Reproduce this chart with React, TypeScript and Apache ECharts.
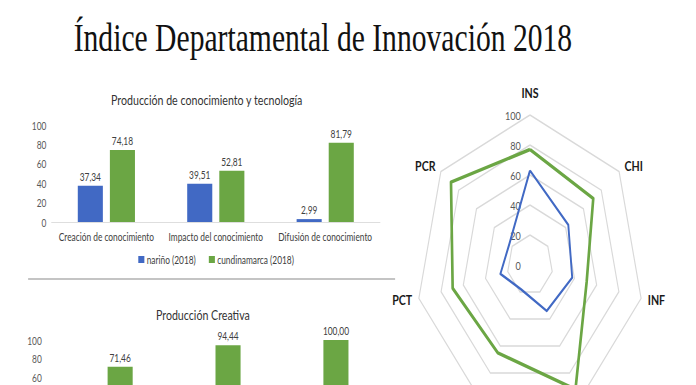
import React, { useEffect, useRef } from 'react';
import * as echarts from 'echarts';

// ---- data ----
const mainTitle = 'Índice Departamental de Innovación 2018';
const seriesNames = ['nariño (2018)', 'cundinamarca (2018)'];

const pctTitle = 'Producción de conocimiento y tecnología';
const pctCategories = ['Creación de conocimiento', 'Impacto del conocimiento', 'Difusión de conocimiento'];
const pctNarino = [37.34, 39.51, 2.99];
const pctCundinamarca = [74.18, 52.81, 81.79];

const pcrTitle = 'Producción Creativa';
const pcrCategories = ['Bienes intangibles', 'Bienes y servicios creativos', 'Creatividad en línea'];
const pcrNarino: (number | null)[] = [null, null, null];
const pcrCundinamarca = [71.46, 94.44, 100.0];
// the lower chart is cropped: only these ticks are inside the picture
const pcrVisibleTickFrom = 60;

const radarIndicators = ['INS', 'CHI', 'INF', 'SMD', 'SNE', 'PCT', 'PCR'];
const radarNarino = [63, 43, 38, 34, 18, 26.61, 23];
const radarCundinamarca = [77, 71, 51, 92, 65, 69.59, 88.63];
// indicators whose names fall outside the cropped picture
const radarHiddenNames = ['SMD', 'SNE'];

const valueMin = 0;
const valueMax = 100;
const valueStep = 20;

// ---- layout (the picture is horizontally squeezed, so draw wide and scale) ----
const W = 916;
const H = 385;
const S = 696 / W;

const BLUE = '#4169c4';
const GREEN = '#6ba644';
const FONT = 'Lato, "Open Sans", sans-serif';

const fmt = (v: any) => {
  const n = Array.isArray(v) ? v[v.length - 1] : v;
  return n == null ? '' : Number(n).toFixed(2).replace('.', ',');
};

// ECharts radar goes counter-clockwise; Excel goes clockwise
const order = [0, ...radarIndicators.map((_, i) => i).slice(1).reverse()];

function buildOption(): any {
  const labelStyle = { fontFamily: FONT, fontSize: 11, color: '#404040' };
  const barLabel = {
    show: true,
    position: 'top',
    distance: 4,
    formatter: (p: any) => fmt(p.value),
    ...labelStyle,
  };
  return {
    animation: false,
    backgroundColor: '#ffffff',
    title: [
      {
        text: mainTitle,
        left: 425,
        top: 18,
        padding: 0,
        textAlign: 'center',
        textStyle: { fontFamily: '"Liberation Serif", "DejaVu Serif", serif', fontSize: 39, fontWeight: 'normal', color: '#111111' },
      },
      {
        text: pctTitle,
        left: 272,
        top: 93,
        padding: 0,
        textAlign: 'center',
        textStyle: { fontFamily: FONT, fontSize: 14, fontWeight: 'normal', color: '#333333' },
      },
      {
        text: pcrTitle,
        left: 267,
        top: 308,
        padding: 0,
        textAlign: 'center',
        textStyle: { fontFamily: FONT, fontSize: 14, fontWeight: 'normal', color: '#333333' },
      },
    ],
    legend: {
      data: seriesNames,
      left: 182,
      top: 254,
      padding: 0,
      icon: 'rect',
      itemWidth: 8,
      itemHeight: 7,
      itemGap: 17,
      textStyle: { ...labelStyle, fontSize: 11, color: '#404040', padding: [0, 0, 0, -2] },
    },
    grid: [
      { left: 68, top: 125, width: 432, height: 97, outerBoundsMode: 'none', containLabel: false },
      { left: 66, top: 340, width: 426, height: 94, outerBoundsMode: 'none', containLabel: false },
    ],
    xAxis: [
      {
        type: 'category',
        gridIndex: 0,
        data: pctCategories,
        axisLine: { lineStyle: { color: '#d9d9d9', width: 1 } },
        axisTick: { show: false },
        axisLabel: { ...labelStyle, margin: 9, interval: 0, hideOverlap: false },
      },
      {
        type: 'category',
        gridIndex: 1,
        data: pcrCategories,
        axisLine: { lineStyle: { color: '#d9d9d9', width: 1 } },
        axisTick: { show: false },
        axisLabel: { show: false },
      },
    ],
    yAxis: [
      {
        type: 'value',
        gridIndex: 0,
        min: valueMin,
        max: valueMax,
        interval: valueStep,
        axisLine: { show: false },
        axisTick: { show: false },
        splitLine: { show: false },
        axisLabel: { fontFamily: FONT, fontSize: 11, color: '#595959', margin: 7 },
      },
      {
        type: 'value',
        gridIndex: 1,
        min: valueMin,
        max: valueMax,
        interval: valueStep,
        axisLine: { show: false },
        axisTick: { show: false },
        splitLine: { show: false },
        axisLabel: {
          fontFamily: FONT,
          fontSize: 11,
          color: '#595959',
          margin: 11,
          formatter: (v: number) => (v >= pcrVisibleTickFrom ? String(v) : ''),
        },
      },
    ],
    radar: {
      center: [697.5, 265],
      radius: 150,
      startAngle: 90,
      splitNumber: 5,
      shape: 'polygon',
      indicator: order.map((i) => {
        const ind: any = { name: radarIndicators[i], min: valueMin, max: valueMax, nameGap: i === 0 ? 15 : 9 };
        if (i === 0) {
          ind.axisLabel = { show: true, fontFamily: FONT, fontSize: 12, color: '#595959', margin: 12 };
        }
        return ind;
      }),
      axisName: {
        color: '#1a1a1a',
        fontFamily: FONT,
        fontSize: 14,
        fontWeight: 'bold',
        formatter: (name: string) => (radarHiddenNames.indexOf(name) >= 0 ? '' : name),
      },
      axisLine: { show: false },
      axisTick: { show: false },
      axisLabel: { show: false },
      splitArea: { show: false },
      splitLine: { lineStyle: { color: '#d9d9d9', width: 1.5 } },
    },
    series: [
      {
        name: seriesNames[0],
        type: 'bar',
        xAxisIndex: 0,
        yAxisIndex: 0,
        data: pctNarino,
        barWidth: 33,
        barGap: '28%',
        itemStyle: { color: BLUE },
        label: barLabel,
      },
      {
        name: seriesNames[1],
        type: 'bar',
        xAxisIndex: 0,
        yAxisIndex: 0,
        data: pctCundinamarca,
        barWidth: 33,
        barGap: '28%',
        itemStyle: { color: GREEN },
        label: barLabel,
      },
      {
        name: seriesNames[0],
        type: 'bar',
        xAxisIndex: 1,
        yAxisIndex: 1,
        data: pcrNarino,
        barWidth: 33,
        barGap: '28%',
        itemStyle: { color: BLUE },
        label: barLabel,
      },
      {
        name: seriesNames[1],
        type: 'bar',
        xAxisIndex: 1,
        yAxisIndex: 1,
        data: pcrCundinamarca,
        barWidth: 33,
        barGap: '28%',
        itemStyle: { color: GREEN },
        label: barLabel,
      },
      {
        type: 'radar',
        symbol: 'none',
        data: [
          {
            name: seriesNames[0],
            value: order.map((i) => radarNarino[i]),
            lineStyle: { color: BLUE, width: 2.5 },
            itemStyle: { color: BLUE },
          },
          {
            name: seriesNames[1],
            value: order.map((i) => radarCundinamarca[i]),
            lineStyle: { color: GREEN, width: 3.5 },
            itemStyle: { color: GREEN },
          },
        ],
      },
    ],
    graphic: [
      {
        type: 'line',
        shape: { x1: 37, y1: 279, x2: 520, y2: 279 },
        style: { stroke: '#c4c4c4', lineWidth: 2 },
        silent: true,
      },
    ],
  };
}

export default function App() {
  const ref = useRef<HTMLDivElement>(null);
  useEffect(() => {
    document.body.style.margin = '0';
    const chart = echarts.init(ref.current as HTMLDivElement, null, { renderer: 'svg' });
    chart.setOption(buildOption());
    return () => chart.dispose();
  }, []);
  return (
    <div style={{ width: 696, height: 385, overflow: 'hidden', position: 'relative', background: '#ffffff' }}>
      <div
        ref={ref}
        style={{ width: W, height: H, transform: `scaleX(${S})`, transformOrigin: '0 0' }}
      />
    </div>
  );
}
